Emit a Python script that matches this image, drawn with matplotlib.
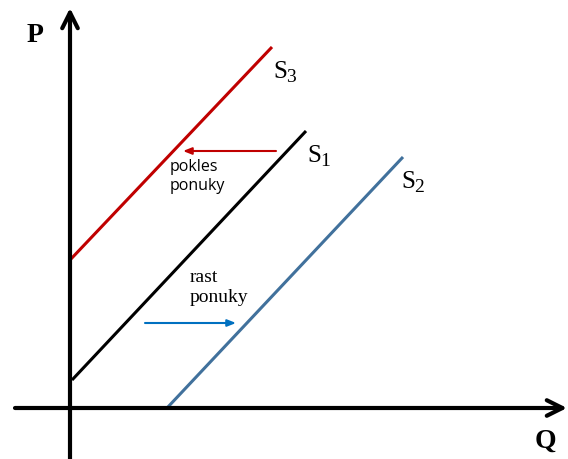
import matplotlib.pyplot as plt

# supply curves (Q, P) endpoints, origin at the axes crossing
s1_q = [2, 236]
s1_p = [28, 277]
s3_q = [0, 202]
s3_p = [148, 361]
s2_q = [97, 333]
s2_p = [0, 251]

# shift arrows: (start, end) in Q, at level P
pokles_q = (206, 113)
pokles_p = 257
rast_q = (75, 166)
rast_p = 85

# axis extents
q_axis = (-55, 497)
p_axis = (-51, 400)

fig = plt.figure(figsize=(5.68, 4.59), dpi=100)
ax = fig.add_axes([0, 0, 1, 1])
ax.set_xlim(-70, 498)
ax.set_ylim(-51, 408)
ax.axis("off")

# axes with open arrowheads
ax.annotate("", xy=(q_axis[1], 0), xytext=(q_axis[0], 0),
            arrowprops=dict(arrowstyle="->", lw=3, color="black",
                            mutation_scale=28, shrinkA=0, shrinkB=0))
ax.annotate("", xy=(0, p_axis[1]), xytext=(0, p_axis[0]),
            arrowprops=dict(arrowstyle="->", lw=3, color="black",
                            mutation_scale=28, shrinkA=0, shrinkB=0))

ax.plot(s3_q, s3_p, color="#C00000", lw=2.2, solid_capstyle="butt")
ax.plot(s1_q, s1_p, color="black", lw=2.2, solid_capstyle="butt")
ax.plot(s2_q, s2_p, color="#41719C", lw=2.2, solid_capstyle="butt")

ax.annotate("", xy=(pokles_q[1], pokles_p), xytext=(pokles_q[0], pokles_p),
            arrowprops=dict(arrowstyle="-|>,head_length=0.5,head_width=0.2",
                            lw=1.5, color="#C00000", shrinkA=0, shrinkB=0))
ax.annotate("", xy=(rast_q[1], rast_p), xytext=(rast_q[0], rast_p),
            arrowprops=dict(arrowstyle="-|>,head_length=0.5,head_width=0.2",
                            lw=1.5, color="#0070C0", shrinkA=0, shrinkB=0))

serif = "Liberation Serif"
ax.text(-35, 373, "P", fontsize=20, fontweight="bold", family=serif,
        ha="center", va="center")
ax.text(475, -33, "Q", fontsize=20, fontweight="bold", family=serif,
        ha="center", va="center")

# S labels: letter plus a lowered digit
for q, p, n in [(203, 336, "3"), (237, 252, "1"), (331, 226, "2")]:
    ax.text(q, p, "S", fontsize=18, family=serif, ha="left", va="center")
    ax.text(q + 13, p - 6, n, fontsize=14, family=serif, ha="left", va="center")

ax.text(100, 249, "pokles\nponuky", fontsize=11.5, family="Open Sans",
        ha="left", va="top", linespacing=1.25)
ax.text(120, 139, "rast\nponuky", fontsize=14, family=serif,
        ha="left", va="top", linespacing=1.2)

fig.savefig("out.png", dpi=100)
